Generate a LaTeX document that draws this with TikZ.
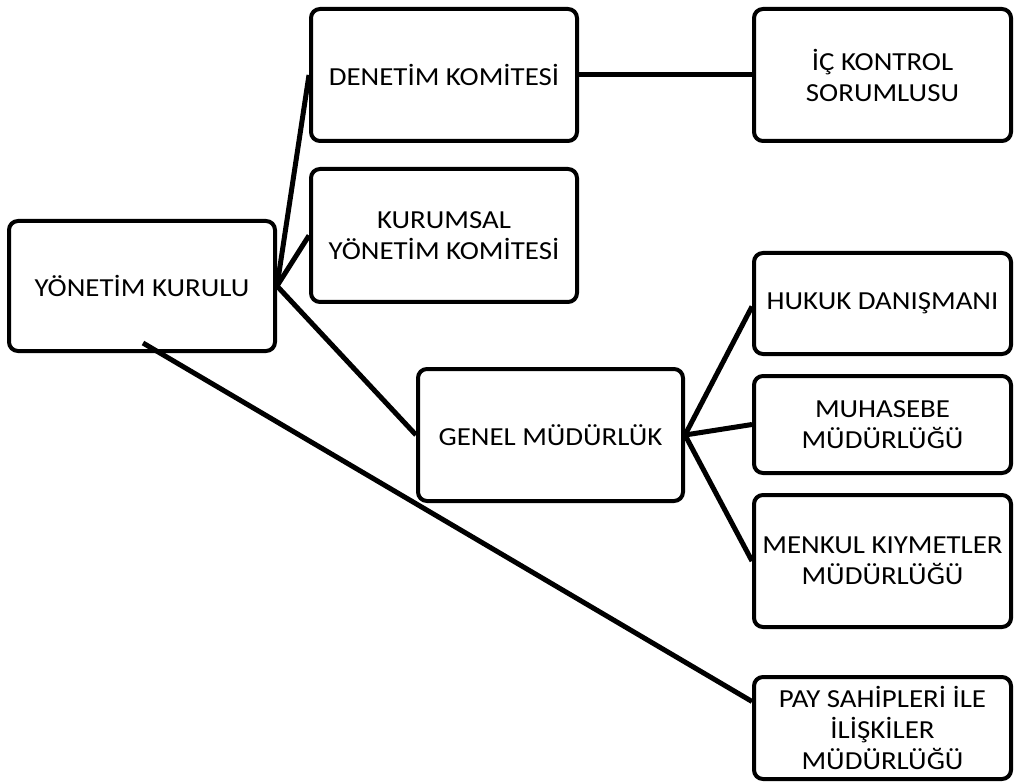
\documentclass[tikz,border=0pt]{standalone}
\usepackage{fontspec}
\setmainfont{Carlito}[FakeStretch=1.11]
\usetikzlibrary{calc}
\begin{document}
\begin{tikzpicture}[x=1pt,y=-1pt,
  orgbox/.style={draw=black,line width=4pt,rounded corners=9pt,fill=white,
    inner sep=0pt,align=center,font=\fontsize{26}{31}\selectfont},
  link/.style={draw=black,line width=5pt}]
\useasboundingbox[fill=white] (0,0) rectangle (1014,783);
\path (142,286) node[orgbox,minimum width=266pt,minimum height=130pt] (yk) {YÖNETİM KURULU};
\path (444,75) node[orgbox,minimum width=266pt,minimum height=132pt] (den) {DENETİM KOMİTESİ};
\path (444,235.5) node[orgbox,minimum width=266pt,minimum height=133pt] (kur) {KURUMSAL\\YÖNETİM KOMİTESİ};
\path (550.5,435) node[orgbox,minimum width=265pt,minimum height=132pt] (gen) {GENEL MÜDÜRLÜK};
\path (882.5,75) node[orgbox,minimum width=257pt,minimum height=132pt] (ic) {İÇ KONTROL\\SORUMLUSU};
\path (882.5,303.5) node[orgbox,minimum width=257pt,minimum height=101pt] (huk) {HUKUK DANIŞMANI};
\path (882.5,424.5) node[orgbox,minimum width=257pt,minimum height=97pt] (muh) {MUHASEBE\\MÜDÜRLÜĞÜ};
\path (882.5,561) node[orgbox,minimum width=257pt,minimum height=132pt] (men) {MENKUL KIYMETLER\\MÜDÜRLÜĞÜ};
\path (882.5,728) node[orgbox,minimum width=257pt,minimum height=102pt] (pay) {PAY SAHİPLERİ İLE\\İLİŞKİLER\\MÜDÜRLÜĞÜ};
\coordinate (ykin) at (143,343);
\draw[link] (yk.east) -- (den.west);
\draw[link] (yk.east) -- (kur.west);
\draw[link] (yk.east) -- (gen.west);
\draw[link] (ykin) -- ($(pay.north west)!0.25!(pay.south west)$);
\draw[link] (den.east) -- (ic.west);
\draw[link] (gen.east) -- ($(huk.west)+(0,3)$);
\draw[link] (gen.east) -- (muh.west);
\draw[link] (gen.east) -- (men.west);
\end{tikzpicture}
\end{document}
